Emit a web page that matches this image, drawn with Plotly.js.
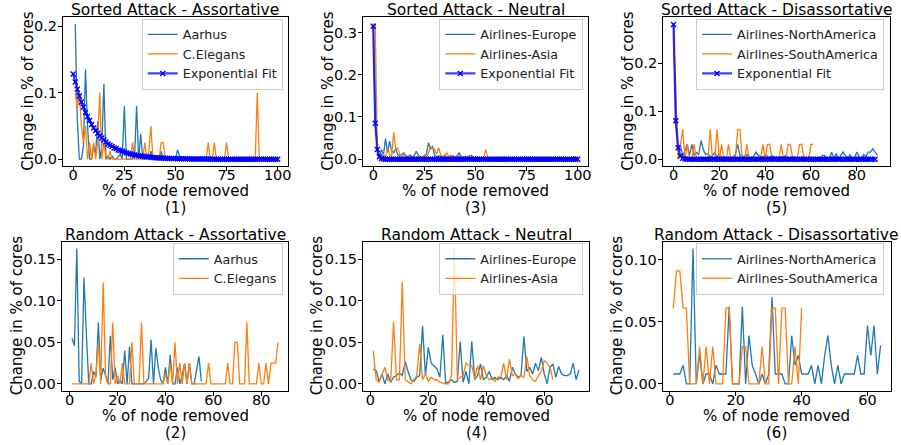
<!DOCTYPE html>
<html><head><meta charset="utf-8">
<script src="https://cdn.plot.ly/plotly-3.0.1.min.js"></script>
<style>html,body{margin:0;padding:0;background:#fff}#chart{width:901px;height:445px}</style>
</head><body><div id="chart"></div>
<script>
// percentage of nodes removed (x positions shared by all series)
const pctRemoved = [0,1,2,3,4,5,6,7,8,9,10,11,12,13,14,15,16,17,18,19,20,21,22,23,24,25,26,27,28,29,30,31,32,33,34,35,36,37,38,39,40,41,42,43,44,45,46,47,48,49,50,51,52,53,54,55,56,57,58,59,60,61,62,63,64,65,66,67,68,69,70,71,72,73,74,75,76,77,78,79,80,81,82,83,84,85,86,87,88,89,90,91,92,93,94,95,96,97,98,99,100];

// (1) Sorted Attack - Assortative  (x from 1)
const aarhusSorted = [0.203,0.06,0,0,0.02,0.135,0.05,0,0,0.02, 0.01,0.057,0,0.02,0.113,0,0.005,0,0.005,0, 0,0.003,0.007,0,0.08,0,0,0,0,0.003, 0.08,0,0.038,0,0,0.003,0,0.012,0,0, 0,0,0.012,0,0.003,0,0,0,0,0, 0.014,0.005,0,0,0,0,0,0,0,0, 0,0,0,0,0,0,0,0,0,0, 0,0,0,0,0,0,0,0,0,0, 0,0,0,0,0,0,0,0,0,0, 0,0,0,0,0,0,0,0,0,0];
const cElegansSorted = [0.1,0.075,0.1,0.05,0.025,0.05,0,0.025,0,0.025, 0,0.025,0.1,0,0.025,0,0,0.012,0,0, 0,0,0,0,0,0,0,0,0.025,0, 0,0,0,0,0.025,0,0.012,0.05,0,0, 0,0,0.025,0.025,0,0,0,0,0,0, 0,0,0,0,0,0,0,0,0,0, 0,0,0,0,0,0.025,0,0,0.025,0, 0,0,0,0,0.025,0,0,0,0,0, 0,0,0,0,0,0,0,0,0,0.1, 0,0,0,0,0,0,0,0,0,0];
// exponential fit (x from 0)
const fitAssortative = [0.128,0.116,0.105,0.095,0.086,0.078,0.070,0.064,0.058,0.052,0.047, 0.043,0.039,0.035,0.032,0.029,0.026,0.023,0.021,0.019,0.017, 0.016,0.014,0.013,0.012,0.011,0.0095,0.0086,0.0078,0.0070,0.0064, 0.0058,0.0052,0.0047,0.0043,0.0039,0.0035,0.0032,0.0029,0.0026,0.0023, 0.0021,0.0019,0.0017,0.0016,0.0014,0.0013,0.0012,0.0011,0.0010,0.0009, 0.0008,0.0007,0.0007,0.0006,0.0005,0.0005,0.0004,0.0004,0.0004,0.0003, 0.0003,0.0003,0.0002,0.0002,0.0002,0.0002,0.0002,0.0001,0.0001,0.0001, 0.0001,0.0001,0.0001,0.0001,0.0001,0.0001,0.0001,0.0001,0.0001,0.0001, 0,0,0,0,0,0,0,0,0,0, 0,0,0,0,0,0,0,0,0,0];

// (3) Sorted Attack - Neutral (x from 0)
const europeSorted = [0.32,0.09,0.02,0.005,0.023,0.01,0.049,0.016,0.043,0.02,0.015, 0.025,0.01,0.008,0.012,0.015,0.008,0.005,0.01,0.005,0.008, 0.019,0.01,0.005,0.005,0.008,0.012,0.039,0.023,0.031,0.01, 0.005,0.008,0.006,0.005,0.01,0.004,0.006,0.005,0.008,0.005, 0.008,0.015,0.005,0.004,0.006,0.004,0.008,0.009,0.004,0.005, 0.003,0.004,0.002,0.003,0.002,0.002,0.001,0.002,0.001,0.002, 0.001,0.002,0.001,0.002,0.001,0.001,0.002,0.001,0.002,0.001, 0.001,0.002,0.001,0.002,0.001,0.001,0.002,0.001,0.002,0.001, 0.001,0.002,0.001,0.002,0.001,0.001,0.002,0.001,0.002,0.001, 0.001,0.002,0.001,0.002,0.001,0.001,0.002,0.001,0.002,0.001];
const asiaSorted = [0.32,0.32,0.01,0.002,0.005,0.012,0.005,0.027,0.01,0.008,0.064, 0.023,0.027,0.01,0.006,0.012,0.005,0.008,0.004,0.006,0.005, 0.003,0.008,0.005,0.003,0.01,0.005,0.015,0.031,0.025,0.023, 0.012,0.027,0.01,0.006,0.008,0.015,0.005,0.01,0.004,0.006, 0.005,0.007,0.004,0.006,0.003,0.005,0.004,0.003,0.005,0.004, 0.006,0.003,0.004,0.004,0.023,0.003,0.003,0.003,0.003,0.003, 0.003,0.003,0.003,0.006,0.003,0.003,0.003,0.003,0.003,0.003, 0.003,0.003,0.003,0.003,0.005,0.003,0.003,0.003,0.003,0.003, 0.003,0.003,0.003,0.003,0.003,0.003,0.003,0.003,0.003,0.003, 0.003,0.003,0.003,0.003,0.003,0.003,0.003,0.006,0.003,0.003];
const fitNeutral = [0.315,0.085,0.023,0.006,0.0017,0.0005,0.0001,0,0,0,0, 0,0,0,0,0,0,0,0,0,0, 0,0,0,0,0,0,0,0,0,0, 0,0,0,0,0,0,0,0,0,0, 0,0,0,0,0,0,0,0,0,0, 0,0,0,0,0,0,0,0,0,0, 0,0,0,0,0,0,0,0,0,0, 0,0,0,0,0,0,0,0,0,0, 0,0,0,0,0,0,0,0,0,0, 0,0,0,0,0,0,0,0,0,0];

// (5) Sorted Attack - Disassortative (x from 0)
const northAmericaSorted = [0.28,0.08,0.02,0.03,0.005,0.017,0.031,0.008,0.031,0.008, 0.014,0.01,0.039,0.02,0.01,0.012,0.005,0.008,0.014,0.005, 0.01,0.004,0.006,0.003,0.005,0.003,0.004,0.01,0.031,0.008, 0.006,0.005,0.01,0.004,0.003,0.006,0.015,0.008,0.006,0.004, 0.01,0.006,0.003,0.008,0.004,0.005,0.003,0.006,0.004,0.008, 0.003,0.004,0.006,0.003,0.004,0.002,0.005,0.003,0.002,0.004, 0.002,0.002,0.001,0,0,0.008,0.008,0,0,0.015, 0.002,0.012,0,0.008,0.015,0.008,0,0.01,0,0.002, 0.015,0.005,0,0.01,0.005,0.015,0.015,0.022,0.015,0.008];
const southAmericaSorted = [0.27,0.12,0,0.03,0.062,0,0.031,0,0,0.031, 0,0,0,0,0,0,0.062,0,0,0.062, 0,0.031,0,0,0.031,0,0,0,0.062,0.062, 0,0,0.031,0,0,0,0,0,0,0.031, 0,0.031,0.031,0,0,0,0,0.031,0,0, 0.031,0.031,0,0,0,0.031,0.031,0,0,0, 0.031,0.031];
const fitDisassortative = [0.28,0.08,0.024,0.007,0.002,0.0006,0.0002,0,0,0, 0,0,0,0,0,0,0,0,0,0, 0,0,0,0,0,0,0,0,0,0, 0,0,0,0,0,0,0,0,0,0, 0,0,0,0,0,0,0,0,0,0, 0,0,0,0,0,0,0,0,0,0, 0,0,0,0,0,0,0,0,0,0, 0,0,0,0,0,0,0,0,0,0, 0,0,0,0,0,0,0,0,0];

// (2) Random Attack - Assortative (x from 1)
const aarhusRandom = [0.055,0.046,0.163,0.003,0,0.128,0.06,0,0,0.015, 0.008,0.074,0.005,0.019,0.01,0,0.058,0.005,0.02,0, 0.005,0,0.04,0,0.045,0,0,0,0,0, 0,0.003,0.007,0.053,0,0.043,0.02,0.005,0,0.02, 0,0.035,0,0,0.02,0,0.01,0.025,0,0.025, 0,0,0.015,0.033,0.003];
const cElegansRandom = [0,0,0,0,0,0,0,0,0.025,0, 0.012,0.05,0,0.122,0.01,0,0,0.074,0,0.01, 0,0.025,0,0,0,0.05,0,0,0,0.074, 0,0,0,0,0,0,0,0,0,0.012, 0,0.025,0,0.05,0,0.025,0,0.025,0,0.025, 0,0,0,0,0,0,0,0.025,0,0, 0,0,0,0,0,0.025,0,0,0.05,0.05, 0,0,0,0.074,0,0,0,0,0.025,0, 0,0.025,0,0.025,0.025,0.025,0.05];

// (4) Random Attack - Neutral (x from 1)
const europeRandom = [0.018,0.016,0.003,0.012,0,0.012,0.002,0.008,0.01,0.013, 0.01,0.027,0.015,0.005,0.003,0.008,0.01,0.07,0.01,0.044, 0.025,0.022,0.018,0.008,0.059,0,0.003,0.005,0.002,0.003, 0.051,0.002,0.015,0,0.051,0.005,0.01,0.024,0.005,0.008, 0.015,0.005,0.008,0.005,0.008,0.005,0.01,0.003,0.02,0.012, 0.008,0.01,0.057,0.015,0.02,0.012,0.025,0.016,0.032,0.012, 0,0.02,0.024,0.008,0.021,0.012,0.01,0.01,0.012,0.025, 0.005,0.017];
const asiaRandom = [0.04,0.005,0.002,0.012,0.02,0.005,0.002,0.075,0.005,0.005, 0.123,0.005,0.002,0,0.005,0.01,0.048,0.005,0.012,0.003, 0.008,0.005,0.005,0.002,0.001,0,0,0.01,0.163,0.005, 0.008,0.01,0.025,0.022,0.022,0.006,0.022,0.005,0.022,0.01, 0.005,0.008,0.003,0.008,0.008,0.025,0.005,0.03,0.01,0.012, 0.006,0.01,0.008,0.033,0.01,0.005,0.003,0.01,0.015,0.028, 0.025,0.02,0.005];

// (6) Random Attack - Disassortative (x from 1)
const northAmericaRandom = [0.008,0.008,0.008,0.015,0,0,0.109,0,0.024,0, 0.008,0.008,0,0.015,0.008,0.008,0.008,0.062,0,0, 0,0.062,0,0.039,0.015,0.008,0,0.008,0,0.008, 0.07,0.008,0.008,0.008,0,0,0.039,0.015,0.023,0.008, 0.008,0.008,0.015,0,0.015,0,0.023,0.039,0.015,0, 0.015,0,0.008,0.008,0.008,0.008,0.023,0.008,0.008,0.047, 0.023,0.047,0.008,0.031];
const southAmericaRandom = [0.061,0.091,0.091,0.061,0.061,0,0,0,0.03,0, 0.03,0,0.03,0,0,0,0.061,0.061,0,0, 0,0.03,0.03,0,0,0,0,0.03,0,0, 0.061,0.061,0,0.061,0.061,0,0,0.03,0,0.061];

const blue = '#1f77b4', orange = '#ff7f0e';
const FONT = 'DejaVu Sans, Liberation Sans, sans-serif';

function xsFrom(start, ys) { return pctRemoved.slice(start, start + ys.length); }
function dataLine(ys, start, name, color, n) {
  return {type:'scatter', mode:'lines', x: xsFrom(start, ys), y: ys, name: name,
    line:{color: color, width:1.3}, xaxis:'x'+(n===1?'':n), yaxis:'y'+(n===1?'':n),
    legend: n===1 ? 'legend' : 'legend'+n};
}
function fitLine(ys, n) {
  return {type:'scatter', mode:'lines+markers', x: xsFrom(0, ys), y: ys, name:'Exponential Fit',
    line:{color:'rgba(0,0,255,0.75)', width:2.3},
    marker:{symbol:'x-thin', size:5, color:'blue', line:{width:1.4, color:'blue'}},
    xaxis:'x'+(n===1?'':n), yaxis:'y'+(n===1?'':n), legend: n===1 ? 'legend' : 'legend'+n};
}

const traces = [
  dataLine(aarhusSorted, 1, 'Aarhus', blue, 1),
  dataLine(cElegansSorted, 1, 'C.Elegans', orange, 1),
  fitLine(fitAssortative, 1),
  dataLine(europeSorted, 0, 'Airlines-Europe', blue, 2),
  dataLine(asiaSorted, 0, 'Airlines-Asia', orange, 2),
  fitLine(fitNeutral, 2),
  dataLine(northAmericaSorted, 0, 'Airlines-NorthAmerica', blue, 3),
  dataLine(southAmericaSorted, 0, 'Airlines-SouthAmerica', orange, 3),
  fitLine(fitDisassortative, 3),
  dataLine(aarhusRandom, 1, 'Aarhus', blue, 4),
  dataLine(cElegansRandom, 1, 'C.Elegans', orange, 4),
  dataLine(europeRandom, 1, 'Airlines-Europe', blue, 5),
  dataLine(asiaRandom, 1, 'Airlines-Asia', orange, 5),
  dataLine(northAmericaRandom, 1, 'Airlines-NorthAmerica', blue, 6),
  dataLine(southAmericaRandom, 1, 'Airlines-SouthAmerica', orange, 6)
];

const topY = [0.6270, 0.9611], botY = [0.1220, 0.4569];
// ytx: x (px) of the y-axis title centre; xl1/xl2: y (px) of the two x-label lines
const panels = [
  {n:1, dx:[0.0699,0.3196], dy:topY, xr:[-5,105], xd:25, yr:[-0.0102,0.2132], yd:0.1, yf:'.1f', lab:'(1)', title:'Sorted Attack - Assortative', lx:0.3138, ytx:28, xl1:191, xl2:208},
  {n:2, dx:[0.4029,0.6526], dy:topY, xr:[-5,105], xd:25, yr:[-0.016,0.336], yd:0.1, yf:'.1f', lab:'(3)', title:'Sorted Attack - Neutral', lx:0.6474, ytx:328, xl1:191, xl2:208},
  {n:3, dx:[0.7361,0.9878], dy:topY, xr:[-4.5,94.5], xd:20, yr:[-0.014,0.295], yd:0.1, yf:'.1f', lab:'(5)', title:'Sorted Attack - Disassortative', lx:0.9811, ytx:628, xl1:191, xl2:208},
  {n:4, dx:[0.0685,0.3200], dy:botY, xr:[-3.3,91.3], xd:20, yr:[-0.0082,0.1712], yd:0.05, yf:'.2f', lab:'(2)', title:'Random Attack - Assortative', lx:0.3138, ytx:17, xl1:415.5, xl2:432.5},
  {n:5, dx:[0.4029,0.6540], dy:botY, xr:[-2.55,75.55], xd:20, yr:[-0.0082,0.1712], yd:0.05, yf:'.2f', lab:'(4)', title:'Random Attack - Neutral', lx:0.6474, ytx:317, xl1:415.5, xl2:432.5},
  {n:6, dx:[0.7357,0.9889], dy:botY, xr:[-2.15,67.15], xd:20, yr:[-0.00545,0.11445], yd:0.05, yf:'.2f', lab:'(6)', title:'Random Attack - Disassortative', lx:0.9811, ytx:617, xl1:415.5, xl2:432.5}
];

const W = 901, H = 445;
const layout = {
  width:W, height:H, margin:{l:0,r:0,t:0,b:0}, paper_bgcolor:'#fff', plot_bgcolor:'#fff',
  font:{family:FONT, color:'#000', size:15}, showlegend:true, annotations:[]
};
panels.forEach(p => {
  const s = p.n===1 ? '' : String(p.n);
  const axBase = {showline:true, linecolor:'#000', linewidth:1.1, mirror:true, showgrid:false, zeroline:false,
    ticks:'outside', ticklen:4, tickwidth:1, tickcolor:'#000', tickfont:{family:FONT, size:14.5, color:'#000'}, automargin:false};
  layout['xaxis'+s] = Object.assign({}, axBase, {domain:p.dx, range:p.xr, dtick:p.xd, tick0:0, anchor:'y'+s, ticklabelstandoff:-8});
  layout['yaxis'+s] = Object.assign({}, axBase, {domain:p.dy, range:p.yr, dtick:p.yd, tick0:0, tickformat:p.yf, anchor:'x'+s, ticklabelstandoff:-2});
  layout[p.n===1 ? 'legend' : 'legend'+p.n] = {x:p.lx, xanchor:'right', y:p.dy[1]-0.003, yanchor:'top',
    bgcolor:'rgba(255,255,255,0.8)', bordercolor:'#cccccc', borderwidth:1, font:{family:FONT, size:12.7, color:'#222'},
    tracegroupgap:0, itemwidth:30};
  const cx = (p.dx[0]+p.dx[1])/2;
  const ann = (o) => layout.annotations.push(Object.assign({xref:'paper', yref:'paper', showarrow:false, borderpad:0,
    font:{family:FONT, size:15, color:'#000'}}, o));
  ann({x:cx, y:p.dy[1], xanchor:'center', yanchor:'bottom', yshift:-3, text:p.title, font:{family:FONT, size:15.5, color:'#000'}});
  ann({x:cx, y:1-p.xl1/H, xanchor:'center', yanchor:'middle', text:'% of node removed'});
  ann({x:cx, y:1-p.xl2/H, xanchor:'center', yanchor:'middle', text:p.lab});
  ann({x:p.ytx/W, y:(p.dy[0]+p.dy[1])/2, xanchor:'center', yanchor:'middle', textangle:-90, text:'Change in % of cores'});
});

Plotly.newPlot('chart', traces, layout, {staticPlot:true, displayModeBar:false});
</script>
</body></html>
